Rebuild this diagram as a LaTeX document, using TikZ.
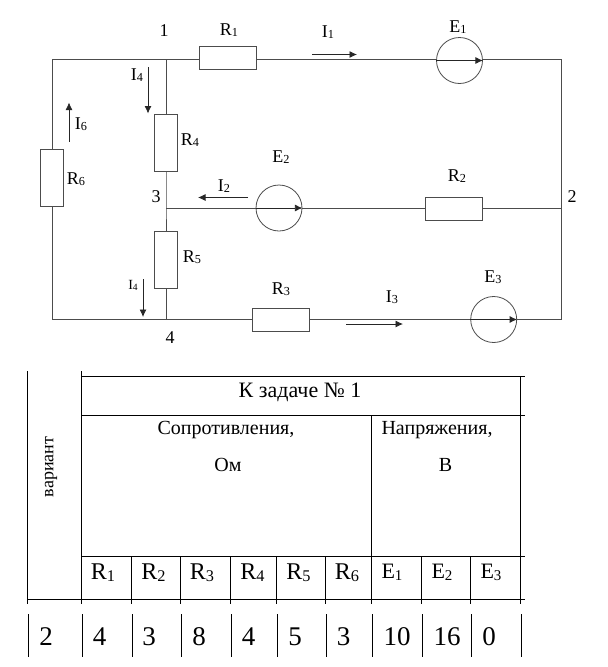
\documentclass[tikz,border=0pt]{standalone}
\usepackage{fontspec}
\setmainfont{Liberation Serif}
\usetikzlibrary{arrows.meta}
\newcommand{\fsz}[1]{\fontsize{#1}{#1}\selectfont}
\newcommand{\symb}[2]{#1\raisebox{-0.08em}{\scalebox{0.68}{#2}}}
\tikzset{
  wire/.style={draw=black!70,line width=0.8pt},
  res/.style={draw=black!70,line width=0.8pt,fill=white,rectangle,inner sep=0pt,minimum width=57pt,minimum height=23pt},
  vres/.style={res,minimum width=23pt,minimum height=57pt},
  emf/.style={draw=black!70,line width=0.8pt,circle,inner sep=0pt,minimum size=46pt},
  emfdir/.style={black!85,line width=0.8pt,-{Latex[length=7.5pt,width=7pt]}},
  cur/.style={black!85,line width=0.8pt,-{Latex[length=7.5pt,width=7pt]}},
  lab/.style={inner sep=0pt,font=\fsz{18}},
  tline/.style={black,line width=0.8pt}
}
\begin{document}
\begin{tikzpicture}[x=1pt,y=-1pt]
  \useasboundingbox (0,0) rectangle (608,667);

  % junctions and corners
  \coordinate (n1) at (166,59.5);
  \coordinate (n2) at (561,208);
  \coordinate (n3) at (166,208);
  \coordinate (n4) at (166,319.5);
  \coordinate (tl) at (52,59.5);
  \coordinate (tr) at (561,59.5);
  \coordinate (bl) at (52,319.5);
  \coordinate (br) at (561,319.5);

  % elements
  \node[res] (R1) at (227.5,57.5) {};
  \node[res] (R2) at (454.2,208.5) {};
  \node[res] (R3) at (281,320) {};
  \node[vres] (R4) at (166,142.5) {};
  \node[vres] (R5) at (166,259.5) {};
  \node[vres] (R6) at (52,178) {};
  \node[emf] (E1) at (459.5,60.5) {};
  \node[emf] (E2) at (279,208) {};
  \node[emf] (E3) at (493.7,319.5) {};

  % wires
  \draw[wire] (R6.north) -- (tl) -- (n1) -- (R1.west |- n1);
  \draw[wire] (R1.east |- n1) -- (E1.west |- n1);
  \draw[wire] (E1.east |- tr) -- (tr) -- (br) -- (E3.east);
  \draw[wire] (E3.west) -- (R3.east |- E3.west);
  \draw[wire] (R3.west |- n4) -- (n4) -- (bl) -- (R6.south);
  \draw[wire] (n1) -- (R4.north);
  \draw[wire] (R4.south) -- (n3) -- (R5.north);
  \draw[wire] (R5.south) -- (n4);
  \draw[wire] (n3) -- (E2.west);
  \draw[wire] (E2.east) -- (R2.west |- E2.east);
  \draw[wire] (R2.east |- n2) -- (n2);

  % arrows inside the sources
  \foreach \e in {E1,E2,E3}
    \draw[emfdir] (\e.west) -- (\e.east);

  % current arrows
  \coordinate (a1) at (312,54.5);   \coordinate (b1) at (357,54.5);
  \coordinate (a2) at (248,197.5);  \coordinate (b2) at (198,197.5);
  \coordinate (a3) at (346,324);    \coordinate (b3) at (403,324);
  \coordinate (a4) at (148,67);     \coordinate (b4) at (148,113.5);
  \coordinate (a5) at (143,279);    \coordinate (b5) at (143,317);
  \coordinate (a6) at (69,141.5);   \coordinate (b6) at (69,102.5);
  \foreach \i in {1,...,6}
    \draw[cur] (a\i) -- (b\i);

  % labels
  \foreach \nm/\x/\y/\s/\k in {
    lR1/229/30/R/1, lR2/457/176/R/2, lR3/281/289/R/3, lR4/190/140/R/4,
    lR5/192/257/R/5, lR6/76/179/R/6, lE1/458/27/E/1, lE2/281/157/E/2,
    lE3/493/277/E/3, lI1/328/32/I/1, lI2/224/186/I/2, lI3/392/297/I/3,
    lIa/137/75/I/4, lI6/81/124/I/6}
    \node[lab] (\nm) at (\x,\y) {\symb{\s}{\k}};
  \node[lab,font=\fsz{14}] (lIb) at (133,285) {\symb{I}{4}};
  \node[lab] (t1) at (164,31) {1};
  \node[lab] (t2) at (572,197) {2};
  \node[lab] (t3) at (156,197) {3};
  \node[lab] (t4) at (170,338) {4};

  % table grid
  \foreach \y in {376.3,415.3,556.3}
    \draw[tline] (81.5,\y) -- (524.7,\y);
  \draw[tline] (27.3,599.3) -- (524.7,599.3);
  \draw[tline] (27.3,371) -- (27.3,604);
  \draw[tline] (81.5,371) -- (81.5,604);
  \foreach \x in {131.5,180.5,230.5,276.5,325.5,421.5,470.5}
    \draw[tline] (\x,556.3) -- (\x,604);
  \draw[tline] (371.5,415.3) -- (371.5,604);
  \draw[tline] (520.5,376.3) -- (520.5,604);
  \foreach \x in {28.5,82.5,132.5,181.5,231.5,277.5,326.5,372.5,422.5,471.5,521.5}
    \draw[tline] (\x,614) -- (\x,656.5);

  % table head
  \node[lab,font=\fsz{22}] (thead) at (300,392) {К задаче № 1};
  \node[lab,font=\fsz{20}] (tres) at (226,430) {Сопротивления,};
  \node[lab,font=\fsz{20}] (tohm) at (228,465) {Ом};
  \node[lab,font=\fsz{20}] (tvolt) at (437,430) {Напряжения,};
  \node[lab,font=\fsz{20}] (tv) at (445.5,465) {В};
  \node[lab,font=\fsz{18},rotate=90] (tvar) at (51,467) {вариант};

  % table symbols and values
  \foreach \x/\k in {103/1,153.5/2,202/3,252.5/4,298.5/5,347/6}
    \node[lab,font=\fsz{24}] (hR\k) at (\x,573) {\symb{R}{\k}};
  \foreach \x/\k in {392/1,442/2,491/3}
    \node[lab,font=\fsz{22}] (hE\k) at (\x,572) {\symb{E}{\k}};
  \foreach \x/\v [count=\c] in {46/2,99.5/4,149/3,199/8,248.5/4,295/5,343.5/3,397/10,447/16,489/0}
    \node[lab,font=\fsz{27}] (val\c) at (\x,637) {\v};
\end{tikzpicture}
\end{document}
